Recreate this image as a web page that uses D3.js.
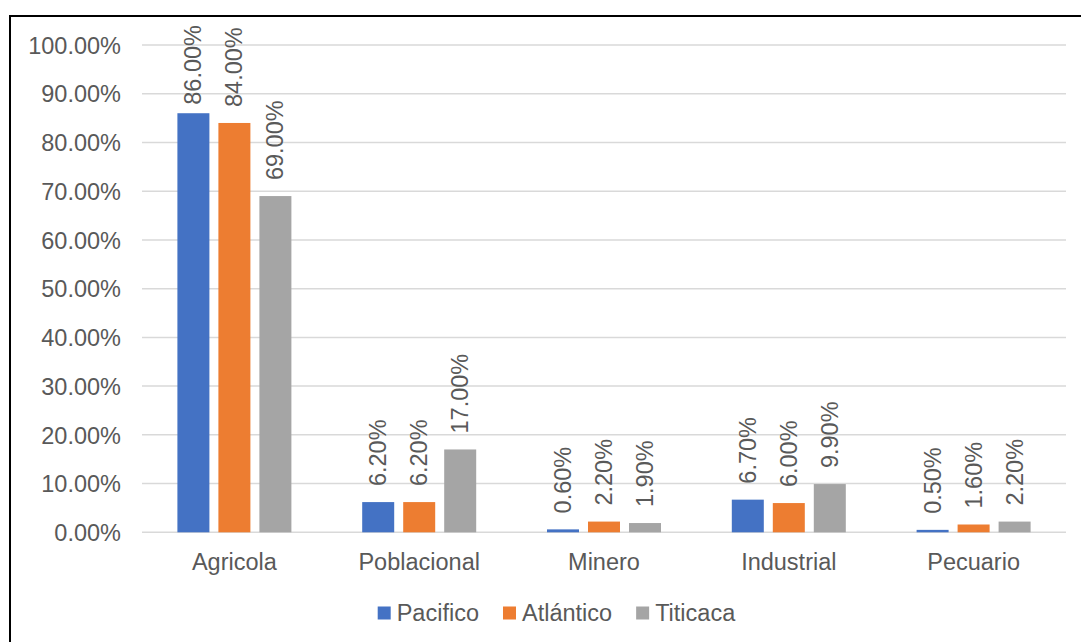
<!DOCTYPE html>
<html><head><meta charset="utf-8">
<script src="https://cdn.jsdelivr.net/npm/d3@7"></script>
<style>body{margin:0;background:#fff}svg{display:block}text{font-family:"Liberation Sans",Arial,sans-serif}</style>
</head><body><svg id="c" width="1081" height="642"></svg>
<script>
const categories = ["Agricola","Poblacional","Minero","Industrial","Pecuario"];
const seriesNames = ["Pacifico","Atlántico","Titicaca"];
const pacifico = [86.0, 6.2, 0.6, 6.7, 0.5];
const atlantico = [84.0, 6.2, 2.2, 6.0, 1.6];
const titicaca = [69.0, 17.0, 1.9, 9.9, 2.2];
const yTicks = [0,10,20,30,40,50,60,70,80,90,100];
const colors = ["#4472C4","#ED7D31","#A5A5A5"];
const seriesValues = [pacifico, atlantico, titicaca];

const svg = d3.select("#c");
const textColor = "#595959";
const fs = 23.5;

// border
svg.append("path").attr("d","M10,642V16H1081").attr("fill","none").attr("stroke","#000").attr("stroke-width",2);

const x = d3.scaleBand().domain(categories).range([142,1066]).padding(0);
const xs = d3.scaleBand().domain(seriesNames).range([0,x.bandwidth()]).paddingInner(9/41).paddingOuter(0.8634);
const y = d3.scaleLinear().domain([0,100]).range([532.3,45]);

// gridlines
svg.append("g").selectAll("line").data(yTicks).join("line")
  .attr("x1",142).attr("x2",1066).attr("y1",d=>y(d)).attr("y2",d=>y(d))
  .attr("stroke","#D9D9D9").attr("stroke-width",1.5);

// y axis labels
const yAxis = d3.axisLeft(y).tickValues(yTicks).tickFormat(d=>d.toFixed(2)+"%").tickSize(0).tickPadding(0);
const ga = svg.append("g").attr("transform","translate(121,0)").call(yAxis);
ga.select(".domain").remove();
ga.selectAll("text").attr("fill",textColor).style("font-size",fs+"px").style("font-family","'Liberation Sans',Arial,sans-serif").attr("dy","0.35em");

// x axis labels
const xAxis = d3.axisBottom(x).tickSize(0).tickPadding(0);
const gx = svg.append("g").attr("transform","translate(0,532.3)").call(xAxis);
gx.select(".domain").remove();
gx.selectAll("text").attr("fill",textColor).style("font-size",fs+"px").style("font-family","'Liberation Sans',Arial,sans-serif").attr("y",37.7).attr("dy",0);

// bars
const data = [];
categories.forEach((c,i)=>seriesNames.forEach((s,j)=>data.push({c,s,j,v:seriesValues[j][i]})));
svg.append("g").selectAll("rect").data(data).join("rect")
  .attr("x",d=>x(d.c)+xs(d.s)).attr("width",xs.bandwidth())
  .attr("y",d=>y(d.v)).attr("height",d=>y(0)-y(d.v))
  .attr("fill",d=>colors[d.j]);

// value labels (rotated, clamped inside chart top)
const lg = svg.append("g");
data.forEach(d=>{
  const cx = x(d.c)+xs(d.s)+xs.bandwidth()/2;
  const t = lg.append("text").text(d.v.toFixed(2)+"%")
    .attr("fill",textColor).style("font-size",fs+"px").attr("dominant-baseline","central");
  const len = t.node().getComputedTextLength();
  let yb = y(d.v) - 16;
  yb = Math.max(yb, 25 + len);
  t.attr("transform",`translate(${cx},${yb}) rotate(-90)`);
});

// legend
const leg = svg.append("g");
let lx = 377.7;
seriesNames.forEach((s,j)=>{
  leg.append("rect").attr("x",lx).attr("y",606.5).attr("width",13).attr("height",13).attr("fill",colors[j]);
  const t = leg.append("text").text(s).attr("x",lx+19).attr("y",612.5).attr("dy","0.35em")
    .attr("fill",textColor).style("font-size",fs+"px");
  lx += 19 + t.node().getComputedTextLength() + 24;
});
</script></body></html>
